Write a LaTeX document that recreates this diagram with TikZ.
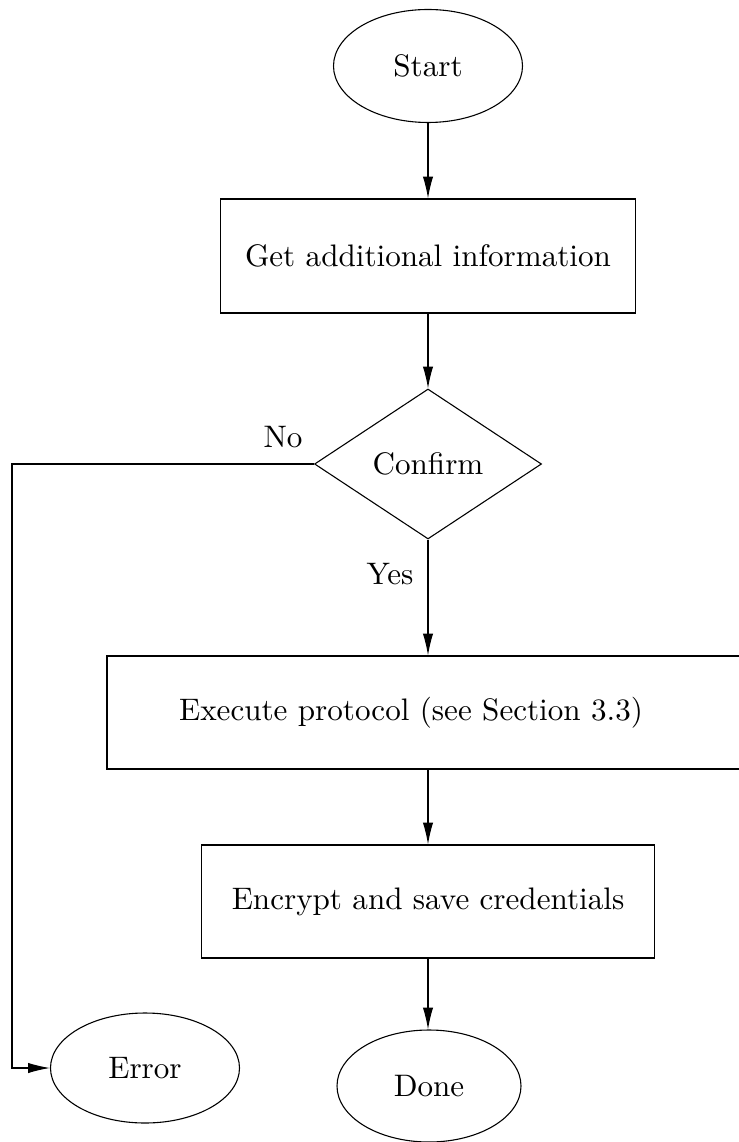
\documentclass[tikz,border=0pt]{standalone}
\usetikzlibrary{shapes.geometric,arrows.meta}
\begin{document}
\begin{tikzpicture}[x=0.3214pt,y=-0.3214pt,
  every node/.style={font=\fontsize{10}{12}\selectfont},
  base/.style={draw,line width=0.35pt,inner sep=0pt},
  oval/.style={base,ellipse},
  boxnode/.style={base,rectangle},
  decision/.style={base,diamond},
  arr/.style={line width=0.35pt,-{Latex[length=7pt,width=3.3pt]}}]
\useasboundingbox (0,0) rectangle (739,1142);
\clip (0,0) rectangle (739,1142);
\node[oval,minimum width=189*0.3214pt,minimum height=113*0.3214pt] (start) at (428,66) {Start};
\node[boxnode,minimum width=415*0.3214pt,minimum height=114*0.3214pt] (get) at (428,256) {Get additional information};
\node[decision,minimum width=227*0.3214pt,minimum height=150*0.3214pt] (conf) at (428,464) {Confirm};
\node[boxnode,minimum width=642*0.3214pt,minimum height=113*0.3214pt] (exec) at (428,712.5) {\hspace*{-10.9pt}Execute protocol (see Section 3.3)};
\node[boxnode,minimum width=453*0.3214pt,minimum height=113*0.3214pt] (enc) at (428,901.5) {Encrypt and save credentials};
\node[oval,minimum width=189*0.3214pt,minimum height=110*0.3214pt] (err) at (145,1068) {Error};
\node[oval,minimum width=184*0.3214pt,minimum height=112*0.3214pt] (done) at (429,1086) {Done};
\node (no) at (283,437) {No};
\node (yes) at (390,574) {Yes};
\coordinate (cl) at (12,464);
\draw[arr] (start) -- (get);
\draw[arr] (get) -- (conf);
\draw[arr] (conf) -- (exec);
\draw[arr] (exec) -- (enc);
\draw[arr] (enc) -- (done.north -| enc.south);
\draw[arr] (conf.west) -- (cl) |- (err);
\end{tikzpicture}
\end{document}
